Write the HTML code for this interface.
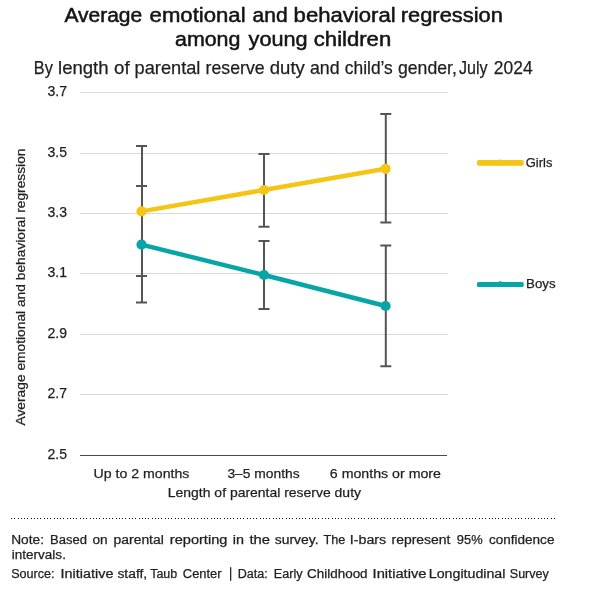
<!DOCTYPE html>
<html><head><meta charset="utf-8">
<style>
html,body{margin:0;padding:0;background:#fff;}
svg{display:block;will-change:transform;}
text{font-family:"Liberation Sans",sans-serif;fill:#1f1f1f;stroke:#1f1f1f;stroke-width:0.25px;}
text.t{fill:#141414;stroke:#141414;stroke-width:0.5px;}
</style></head>
<body>
<svg width="604" height="606" viewBox="0 0 604 606">
<rect width="604" height="606" fill="#fff"/>
<!-- titles -->
<text x="64.40" y="21.7" font-size="20" class="t" textLength="77.80" lengthAdjust="spacingAndGlyphs">Average</text>
<text x="149.60" y="21.7" font-size="20" class="t" textLength="96.00" lengthAdjust="spacingAndGlyphs">emotional</text>
<text x="252.60" y="21.7" font-size="20" class="t" textLength="35.00" lengthAdjust="spacingAndGlyphs">and</text>
<text x="293.60" y="21.7" font-size="20" class="t" textLength="102.00" lengthAdjust="spacingAndGlyphs">behavioral</text>
<text x="400.80" y="21.7" font-size="20" class="t" textLength="102.00" lengthAdjust="spacingAndGlyphs">regression</text>
<text x="175.00" y="45.7" font-size="20" class="t" textLength="65.40" lengthAdjust="spacingAndGlyphs">among</text>
<text x="248.60" y="45.7" font-size="20" class="t" textLength="59.00" lengthAdjust="spacingAndGlyphs">young</text>
<text x="313.80" y="45.7" font-size="20" class="t" textLength="77.40" lengthAdjust="spacingAndGlyphs">children</text>
<text x="33.80" y="73.8" font-size="17.8" textLength="19.00" lengthAdjust="spacingAndGlyphs">By</text>
<text x="58.00" y="73.8" font-size="17.8" textLength="50.60" lengthAdjust="spacingAndGlyphs">length</text>
<text x="114.00" y="73.8" font-size="17.8" textLength="15.60" lengthAdjust="spacingAndGlyphs">of</text>
<text x="134.60" y="73.8" font-size="17.8" textLength="65.80" lengthAdjust="spacingAndGlyphs">parental</text>
<text x="205.60" y="73.8" font-size="17.8" textLength="59.00" lengthAdjust="spacingAndGlyphs">reserve</text>
<text x="269.80" y="73.8" font-size="17.8" textLength="35.00" lengthAdjust="spacingAndGlyphs">duty</text>
<text x="310.00" y="73.8" font-size="17.8" textLength="29.60" lengthAdjust="spacingAndGlyphs">and</text>
<text x="344.80" y="73.8" font-size="17.8" textLength="48.00" lengthAdjust="spacingAndGlyphs">child’s</text>
<text x="398.00" y="73.8" font-size="17.8" textLength="58.80" lengthAdjust="spacingAndGlyphs">gender,</text>
<text x="459.00" y="73.8" font-size="17.8" textLength="28.60" lengthAdjust="spacingAndGlyphs">July</text>
<text x="493.80" y="73.8" font-size="17.8" textLength="38.80" lengthAdjust="spacingAndGlyphs">2024</text>

<!-- gridlines -->
<g stroke="#d9d9d9" stroke-width="1">
<line x1="80" y1="92.5" x2="448" y2="92.5"/>
<line x1="80" y1="153.5" x2="448" y2="153.5"/>
<line x1="80" y1="213.5" x2="448" y2="213.5"/>
<line x1="80" y1="273.5" x2="448" y2="273.5"/>
<line x1="80" y1="334.5" x2="448" y2="334.5"/>
<line x1="80" y1="394.5" x2="448" y2="394.5"/>
</g>
<line x1="80" y1="455.5" x2="447" y2="455.5" stroke="#4a4a4a" stroke-width="1.2"/>

<!-- y labels -->
<g font-size="14" text-anchor="end">
<text x="67" y="96.3">3.7</text>
<text x="67" y="157.3">3.5</text>
<text x="67" y="217.3">3.3</text>
<text x="67" y="277.3">3.1</text>
<text x="67" y="338.3">2.9</text>
<text x="67" y="398.3">2.7</text>
<text x="67" y="459.3">2.5</text>
</g>

<!-- y title -->
<text transform="translate(25.2,425.5) rotate(-90)" x="0" y="0" font-size="13.5" textLength="277" lengthAdjust="spacingAndGlyphs">Average emotional and behavioral regression</text>

<!-- x labels -->
<text x="93.6" y="477.9" font-size="13.6" textLength="95.8" lengthAdjust="spacingAndGlyphs">Up to 2 months</text>
<text x="227.4" y="477.9" font-size="13.6" textLength="72.2" lengthAdjust="spacingAndGlyphs">3–5 months</text>
<text x="329.8" y="477.9" font-size="13.6" textLength="111.2" lengthAdjust="spacingAndGlyphs">6 months or more</text>
<text x="167.8" y="496.7" font-size="13.6" textLength="193.2" lengthAdjust="spacingAndGlyphs">Length of parental reserve duty</text>

<!-- error bars -->
<g stroke="#555" stroke-width="2" fill="none">
<path d="M142.0 146.0V276.0M136.0 146.0H147.0M136.0 276.0H147.0"/>
<path d="M142.0 186.0V302.5M136.0 186.0H147.0M136.0 302.5H147.0"/>
<path d="M264.0 154.0V226.7M258.5 154.0H269.5M258.5 226.7H269.5"/>
<path d="M264.0 241.0V309.0M258.5 241.0H269.5M258.5 309.0H269.5"/>
<path d="M385.8 114.0V222.6M380.3 114.0H391.3M380.3 222.6H391.3"/>
<path d="M385.8 245.6V366.2M380.3 245.6H391.3M380.3 366.2H391.3"/>
</g>

<!-- lines -->
<polyline points="141.5,211.4 264,190 385.6,168.8" fill="none" stroke="#f4c514" stroke-width="4.5" stroke-linejoin="round"/>
<polyline points="141.5,244.6 264,275 385.6,306" fill="none" stroke="#07a5a5" stroke-width="4.5" stroke-linejoin="round"/>
<g fill="#f4c514">
<circle cx="141.5" cy="211.4" r="5.1"/><circle cx="264" cy="190" r="5.1"/><circle cx="385.6" cy="168.8" r="5.1"/>
</g>
<g fill="#07a5a5">
<circle cx="141.5" cy="244.6" r="5.1"/><circle cx="264" cy="275" r="5.1"/><circle cx="385.6" cy="306" r="5.1"/>
</g>

<!-- legend -->
<rect x="477" y="160.1" width="46.7" height="5.7" rx="1.8" fill="#f4c514"/>
<rect x="477" y="282" width="46.7" height="5" rx="1.5" fill="#07a5a5"/>
<circle cx="500.3" cy="284.1" r="2.9" fill="#07a5a5"/>
<circle cx="500.3" cy="162.6" r="3.1" fill="#f4c514"/>
<text x="525.8" y="166.9" font-size="13.2" textLength="26.6" lengthAdjust="spacingAndGlyphs">Girls</text>
<text x="526.1" y="287.9" font-size="13.2" textLength="29.6" lengthAdjust="spacingAndGlyphs">Boys</text>

<!-- footer -->
<path d="M11 518h1v1h-1zM14 518h1v1h-1zM18 518h1v1h-1zM21 518h1v1h-1zM24 518h1v1h-1zM27 518h1v1h-1zM31 518h1v1h-1zM34 518h1v1h-1zM37 518h1v1h-1zM40 518h1v1h-1zM44 518h1v1h-1zM47 518h1v1h-1zM50 518h1v1h-1zM54 518h1v1h-1zM57 518h1v1h-1zM60 518h1v1h-1zM63 518h1v1h-1zM67 518h1v1h-1zM70 518h1v1h-1zM73 518h1v1h-1zM76 518h1v1h-1zM80 518h1v1h-1zM83 518h1v1h-1zM86 518h1v1h-1zM90 518h1v1h-1zM93 518h1v1h-1zM96 518h1v1h-1zM99 518h1v1h-1zM103 518h1v1h-1zM106 518h1v1h-1zM109 518h1v1h-1zM112 518h1v1h-1zM116 518h1v1h-1zM119 518h1v1h-1zM122 518h1v1h-1zM125 518h1v1h-1zM129 518h1v1h-1zM132 518h1v1h-1zM135 518h1v1h-1zM139 518h1v1h-1zM142 518h1v1h-1zM145 518h1v1h-1zM148 518h1v1h-1zM152 518h1v1h-1zM155 518h1v1h-1zM158 518h1v1h-1zM161 518h1v1h-1zM165 518h1v1h-1zM168 518h1v1h-1zM171 518h1v1h-1zM175 518h1v1h-1zM178 518h1v1h-1zM181 518h1v1h-1zM184 518h1v1h-1zM188 518h1v1h-1zM191 518h1v1h-1zM194 518h1v1h-1zM197 518h1v1h-1zM201 518h1v1h-1zM204 518h1v1h-1zM207 518h1v1h-1zM211 518h1v1h-1zM214 518h1v1h-1zM217 518h1v1h-1zM220 518h1v1h-1zM224 518h1v1h-1zM227 518h1v1h-1zM230 518h1v1h-1zM233 518h1v1h-1zM237 518h1v1h-1zM240 518h1v1h-1zM243 518h1v1h-1zM247 518h1v1h-1zM250 518h1v1h-1zM253 518h1v1h-1zM256 518h1v1h-1zM260 518h1v1h-1zM263 518h1v1h-1zM266 518h1v1h-1zM269 518h1v1h-1zM273 518h1v1h-1zM276 518h1v1h-1zM279 518h1v1h-1zM282 518h1v1h-1zM286 518h1v1h-1zM289 518h1v1h-1zM292 518h1v1h-1zM296 518h1v1h-1zM299 518h1v1h-1zM302 518h1v1h-1zM305 518h1v1h-1zM309 518h1v1h-1zM312 518h1v1h-1zM315 518h1v1h-1zM318 518h1v1h-1zM322 518h1v1h-1zM325 518h1v1h-1zM328 518h1v1h-1zM332 518h1v1h-1zM335 518h1v1h-1zM338 518h1v1h-1zM341 518h1v1h-1zM345 518h1v1h-1zM348 518h1v1h-1zM351 518h1v1h-1zM354 518h1v1h-1zM358 518h1v1h-1zM361 518h1v1h-1zM364 518h1v1h-1zM368 518h1v1h-1zM371 518h1v1h-1zM374 518h1v1h-1zM377 518h1v1h-1zM381 518h1v1h-1zM384 518h1v1h-1zM387 518h1v1h-1zM390 518h1v1h-1zM394 518h1v1h-1zM397 518h1v1h-1zM400 518h1v1h-1zM404 518h1v1h-1zM407 518h1v1h-1zM410 518h1v1h-1zM413 518h1v1h-1zM417 518h1v1h-1zM420 518h1v1h-1zM423 518h1v1h-1zM426 518h1v1h-1zM430 518h1v1h-1zM433 518h1v1h-1zM436 518h1v1h-1zM440 518h1v1h-1zM443 518h1v1h-1zM446 518h1v1h-1zM449 518h1v1h-1zM453 518h1v1h-1zM456 518h1v1h-1zM459 518h1v1h-1zM462 518h1v1h-1zM466 518h1v1h-1zM469 518h1v1h-1zM472 518h1v1h-1zM475 518h1v1h-1zM479 518h1v1h-1zM482 518h1v1h-1zM485 518h1v1h-1zM489 518h1v1h-1zM492 518h1v1h-1zM495 518h1v1h-1zM498 518h1v1h-1zM502 518h1v1h-1zM505 518h1v1h-1zM508 518h1v1h-1zM511 518h1v1h-1zM515 518h1v1h-1zM518 518h1v1h-1zM521 518h1v1h-1zM525 518h1v1h-1zM528 518h1v1h-1zM531 518h1v1h-1zM534 518h1v1h-1zM538 518h1v1h-1zM541 518h1v1h-1zM544 518h1v1h-1zM547 518h1v1h-1zM551 518h1v1h-1zM554 518h1v1h-1z" fill="#111"/>
<text x="11.8" y="558.8" font-size="12" textLength="54.1" lengthAdjust="spacingAndGlyphs">intervals.</text>
<text x="11.20" y="543.8" font-size="12" textLength="32.80" lengthAdjust="spacingAndGlyphs">Note:</text>
<text x="50.00" y="543.8" font-size="12" textLength="37.00" lengthAdjust="spacingAndGlyphs">Based</text>
<text x="92.40" y="543.8" font-size="12" textLength="15.20" lengthAdjust="spacingAndGlyphs">on</text>
<text x="113.60" y="543.8" font-size="12" textLength="50.20" lengthAdjust="spacingAndGlyphs">parental</text>
<text x="169.80" y="543.8" font-size="12" textLength="57.60" lengthAdjust="spacingAndGlyphs">reporting</text>
<text x="232.80" y="543.8" font-size="12" textLength="11.20" lengthAdjust="spacingAndGlyphs">in</text>
<text x="249.40" y="543.8" font-size="12" textLength="20.60" lengthAdjust="spacingAndGlyphs">the</text>
<text x="274.80" y="543.8" font-size="12" textLength="43.80" lengthAdjust="spacingAndGlyphs">survey.</text>
<text x="323.60" y="543.8" font-size="12" textLength="21.80" lengthAdjust="spacingAndGlyphs">The</text>
<text x="349.80" y="543.8" font-size="12" textLength="36.40" lengthAdjust="spacingAndGlyphs">I-bars</text>
<text x="391.60" y="543.8" font-size="12" textLength="58.80" lengthAdjust="spacingAndGlyphs">represent</text>
<text x="456.80" y="543.8" font-size="12" textLength="25.80" lengthAdjust="spacingAndGlyphs">95%</text>
<text x="489.00" y="543.8" font-size="12" textLength="65.40" lengthAdjust="spacingAndGlyphs">confidence</text>
<text x="11.20" y="577.6" font-size="12" textLength="43.40" lengthAdjust="spacingAndGlyphs">Source:</text>
<text x="60.60" y="577.6" font-size="12" textLength="52.80" lengthAdjust="spacingAndGlyphs">Initiative</text>
<text x="117.40" y="577.6" font-size="12" textLength="29.80" lengthAdjust="spacingAndGlyphs">staff,</text>
<text x="150.20" y="577.6" font-size="12" textLength="27.00" lengthAdjust="spacingAndGlyphs">Taub</text>
<text x="182.80" y="577.6" font-size="12" textLength="38.80" lengthAdjust="spacingAndGlyphs">Center</text>
<text x="237.80" y="577.6" font-size="12" textLength="30.00" lengthAdjust="spacingAndGlyphs">Data:</text>
<text x="273.80" y="577.6" font-size="12" textLength="28.80" lengthAdjust="spacingAndGlyphs">Early</text>
<text x="307.00" y="577.6" font-size="12" textLength="60.60" lengthAdjust="spacingAndGlyphs">Childhood</text>
<text x="372.60" y="577.6" font-size="12" textLength="53.80" lengthAdjust="spacingAndGlyphs">Initiative</text>
<text x="428.80" y="577.6" font-size="12" textLength="76.60" lengthAdjust="spacingAndGlyphs">Longitudinal</text>
<text x="509.80" y="577.6" font-size="12" textLength="39.00" lengthAdjust="spacingAndGlyphs">Survey</text>
<rect x="230" y="567.2" width="1.3" height="13.6" fill="#2a2a2a"/>
</svg>
</body></html>
